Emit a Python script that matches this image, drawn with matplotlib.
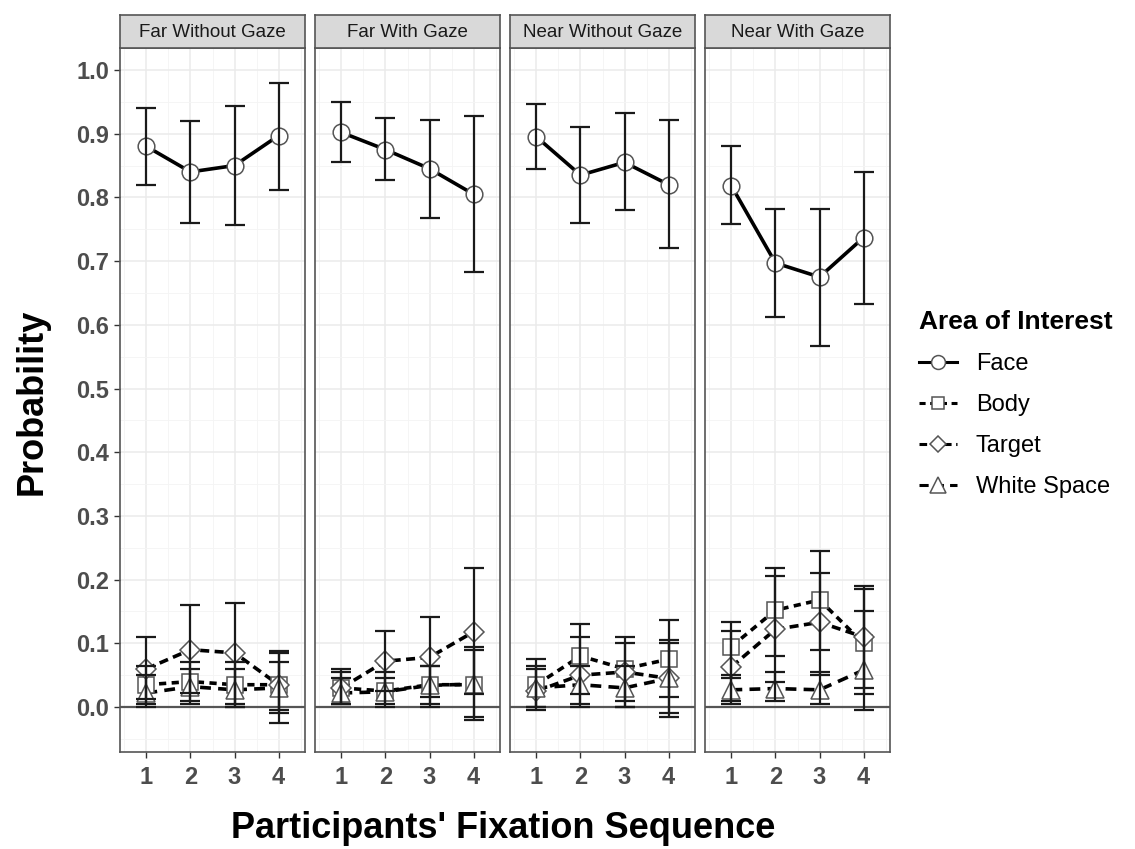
import matplotlib
matplotlib.use("Agg")
import matplotlib.pyplot as plt
from matplotlib.lines import Line2D
from matplotlib.ticker import MultipleLocator

plt.rcParams['font.family'] = ['Liberation Sans', 'DejaVu Sans']

conditions = ["Far Without Gaze", "Far With Gaze", "Near Without Gaze", "Near With Gaze"]
seq = [1, 2, 3, 4]
aoi = ["Face", "Body", "Target", "White Space"]

face_mean = [[0.88, 0.84, 0.85, 0.897], [0.902, 0.875, 0.845, 0.805],
             [0.895, 0.835, 0.855, 0.82], [0.818, 0.697, 0.675, 0.737]]
face_lo = [[0.82, 0.76, 0.757, 0.812], [0.855, 0.827, 0.768, 0.683],
           [0.845, 0.76, 0.78, 0.72], [0.758, 0.613, 0.567, 0.633]]
face_hi = [[0.94, 0.92, 0.943, 0.98], [0.95, 0.925, 0.922, 0.927],
           [0.947, 0.91, 0.932, 0.922], [0.88, 0.782, 0.782, 0.84]]

body_mean = [[0.035, 0.04, 0.035, 0.035], [0.03, 0.025, 0.035, 0.035],
             [0.035, 0.08, 0.06, 0.075], [0.095, 0.152, 0.168, 0.1]]
body_lo = [[0.005, 0.01, 0.0, -0.005], [0.005, 0.0, 0.0, -0.015],
           [-0.005, 0.02, 0.01, 0.015], [0.045, 0.08, 0.09, 0.02]]
body_hi = [[0.065, 0.07, 0.07, 0.085], [0.06, 0.055, 0.065, 0.09],
           [0.075, 0.13, 0.11, 0.137], [0.134, 0.219, 0.245, 0.185]]

target_mean = [[0.06, 0.09, 0.085, 0.035], [0.03, 0.072, 0.078, 0.118],
               [0.025, 0.05, 0.055, 0.045], [0.063, 0.122, 0.133, 0.11]]
target_lo = [[0.012, 0.022, 0.005, -0.025], [0.005, 0.025, 0.015, 0.02],
             [0.0, 0.0, 0.0, -0.01], [0.01, 0.04, 0.05, 0.03]]
target_hi = [[0.11, 0.16, 0.163, 0.088], [0.055, 0.119, 0.141, 0.218],
             [0.06, 0.11, 0.1, 0.105], [0.12, 0.205, 0.21, 0.19]]

white_mean = [[0.022, 0.032, 0.027, 0.03], [0.022, 0.024, 0.034, 0.036],
              [0.03, 0.035, 0.03, 0.045], [0.027, 0.029, 0.027, 0.058]]
white_lo = [[0.0, 0.005, 0.0, -0.01], [0.005, 0.005, 0.005, -0.02],
            [0.0, 0.005, 0.0, -0.015], [0.005, 0.01, 0.005, -0.005]]
white_hi = [[0.05, 0.06, 0.06, 0.07], [0.045, 0.045, 0.065, 0.095],
            [0.065, 0.065, 0.065, 0.1], [0.05, 0.055, 0.055, 0.15]]

series = [
    (face_mean, face_lo, face_hi),
    (body_mean, body_lo, body_hi),
    (target_mean, target_lo, target_hi),
    (white_mean, white_lo, white_hi),
]
markers = ['o', 's', 'D', '^']
msizes = [12, 11, 10, 13]
linestyles = ['-', (0, (2, 1.5)), (0, (2.5, 1.5)), (0, (3, 2))]
lws = [2.6, 2.6, 2.6, 2.6]

W, H = 1135, 849
fig = plt.figure(figsize=(W / 100, H / 100), dpi=100)

lefts = [120, 315, 510, 705]
pw = 185
ptop, pbot = 48, 752
strip_top = 15

grey_txt = '#4D4D4D'
for i, cond in enumerate(conditions):
    ax = fig.add_axes([lefts[i] / W, 1 - pbot / H, pw / W, (pbot - ptop) / H])
    ax.set_xlim(0.4, 4.6)
    ax.set_ylim(-0.0706, 1.0345)
    ax.yaxis.set_major_locator(MultipleLocator(0.1))
    ax.yaxis.set_minor_locator(MultipleLocator(0.05))
    ax.xaxis.set_major_locator(MultipleLocator(1))
    ax.xaxis.set_minor_locator(MultipleLocator(0.5))
    ax.grid(which='major', color='#EBEBEB', lw=1.1)
    ax.grid(which='minor', color='#F4F4F4', lw=0.6)
    ax.set_axisbelow(True)
    for s in ax.spines.values():
        s.set_color('#555555')
        s.set_linewidth(1.2)
    ax.axhline(0, color='#555555', lw=1.6, zorder=1)
    for k, (m, lo, hi) in enumerate(series):
        mm = m[i]
        ax.plot(seq, mm, color='black', lw=lws[k], ls=linestyles[k], zorder=2)
        ax.plot(seq, mm, ls='none', marker=markers[k], ms=msizes[k],
                mfc='white', mec='#555555', mew=1.1, zorder=3)
        ax.errorbar(seq, mm, yerr=[[mm[j] - lo[i][j] for j in range(4)],
                                   [hi[i][j] - mm[j] for j in range(4)]],
                    fmt='none', ecolor='#1A1A1A', elinewidth=1.6, capsize=7,
                    capthick=1.6, zorder=4)
    ax.set_xticks(seq)
    ax.set_xticklabels([str(s) for s in seq], fontsize=17, fontweight='bold',
                       color=grey_txt)
    ax.tick_params(axis='both', which='major', length=4, color='#333333',
                   width=1, pad=4)
    ax.tick_params(axis='x', which='major', pad=6)
    ax.tick_params(which='minor', length=0)
    if i == 0:
        ax.set_yticks([round(0.1 * t, 1) for t in range(11)])
        ax.set_yticklabels([f"{0.1 * t:.1f}" for t in range(11)], fontsize=17,
                           fontweight='bold', color=grey_txt)
    else:
        ax.tick_params(axis='y', which='both', left=False, labelleft=False)
    # strip
    sax = fig.add_axes([lefts[i] / W, 1 - ptop / H, pw / W, (ptop - strip_top) / H])
    sax.set_facecolor('#D9D9D9')
    sax.set_xticks([])
    sax.set_yticks([])
    for s in sax.spines.values():
        s.set_color('#555555')
        s.set_linewidth(1.2)
    sax.text(0.5, 0.47, cond, ha='center', va='center', fontsize=13.5,
             color='#1A1A1A', transform=sax.transAxes)

fig.text(32 / W, 1 - 402 / H, 'Probability', rotation=90, ha='center',
         va='center', fontsize=26, fontweight='bold')
fig.text(503 / W, 1 - 828 / H, "Participants' Fixation Sequence", ha='center',
         va='center', fontsize=26, fontweight='bold')

handles = [Line2D([0], [0], color='black', lw=2.2, ls=linestyles[k],
                  marker=markers[k], ms=msizes[k] - 2, mfc='white',
                  mec='#555555', mew=1.1) for k in range(4)]
leg = fig.legend(handles, aoi, loc='upper left',
                 bbox_to_anchor=(898 / W, 1 - 289 / H), frameon=False,
                 title='Area of Interest', fontsize=17, handlelength=1.6,
                 labelspacing=0.8, handletextpad=0.8,
                 title_fontproperties={'weight': 'bold', 'size': 19})
leg._legend_box.align = 'left'

fig.savefig('out.png', dpi=100)
